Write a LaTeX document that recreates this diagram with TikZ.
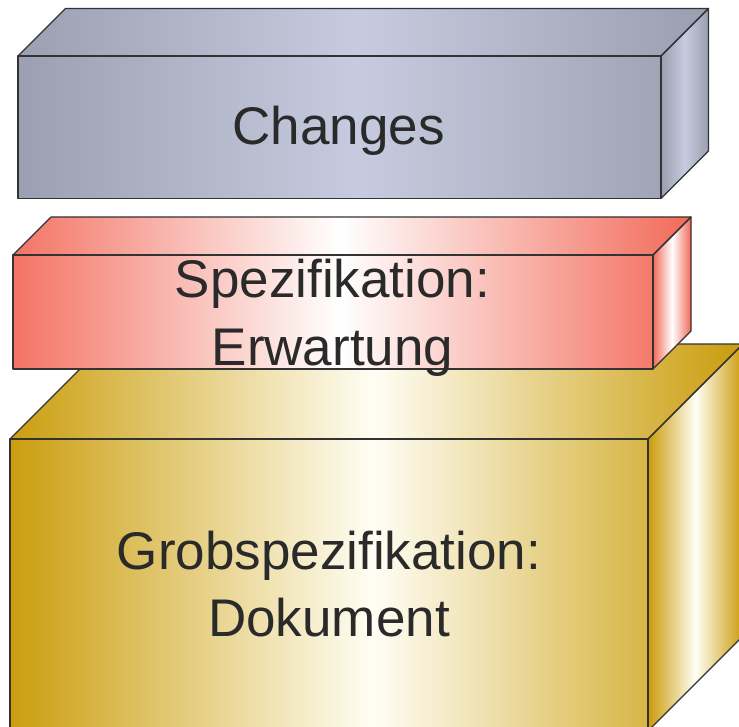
\documentclass[tikz,border=0pt]{standalone}
\usepackage{fontspec}
\setmainfont{Liberation Sans}
\usepackage{tikz}

\definecolor{grayE}{HTML}{9A9EB0}
\definecolor{grayM}{HTML}{C6CBDF}
\definecolor{redE}{HTML}{F26A59}
\definecolor{redM}{HTML}{FFFFFF}
\definecolor{goldE}{HTML}{CA9C0A}
\definecolor{goldM}{HTML}{FFFEF5}
\definecolor{linec}{HTML}{333333}
\definecolor{textc}{HTML}{2A2A2A}

\begin{document}
\begin{tikzpicture}[x=1pt,y=-1pt,face/.style={draw=linec,line width=1.2pt,line join=round},txt/.style={font=\fontsize{53}{67.5}\selectfont,text=textc,text width=600pt,align=center,anchor=base,inner sep=0pt}]
\useasboundingbox (0,0) rectangle (739,727);
\clip (0,0) rectangle (739,727);
% boxes, back to front: left/top/right/bottom of the front face, depth, lightest x, colours
\foreach \bl/\bt/\br/\bb/\bd/\bw/\be/\bm in %
{10/439/648/731/95/373/goldE/goldM,13/255/653/369/38/340/redE/redM,18/56/661/198.5/47.5/358/grayE/grayM} {
   \begin{scope}
      \clip (\bl,\bb) -- (\bl,\bt) -- ++(\bd,-\bd) -- (\br+\bd,\bt-\bd) -- (\br,\bt) -- (\br,\bb) -- cycle;
      \shade[left color=\be,right color=\be,middle color=\bm]
         (2*\bw-\br-\bd,\bt-\bd) rectangle (\br+\bd,\bb);
   \end{scope}
   \path[left color=\be,right color=\be,middle color=\bm]
      (\br,\bt) -- (\br+\bd,\bt-\bd) -- (\br+\bd,\bb-\bd) -- (\br,\bb) -- cycle;
   \draw[face] (\bl,\bt) -- ++(\bd,-\bd) -- (\br+\bd,\bt-\bd) -- (\br,\bt) -- cycle;
   \draw[face] (\br,\bt) -- (\br+\bd,\bt-\bd) -- (\br+\bd,\bb-\bd) -- (\br,\bb) -- cycle;
   \draw[face] (\bl,\bt) rectangle (\br,\bb);
}
\node[txt] (changes) at (338.5,145) {Changes};
\node[txt] (spez) at (332.5,298) {Spezifikation:\\Erwartung};
\node[txt] (grob) at (329,569) {Grobspezifikation:\\Dokument};
\end{tikzpicture}
\end{document}
